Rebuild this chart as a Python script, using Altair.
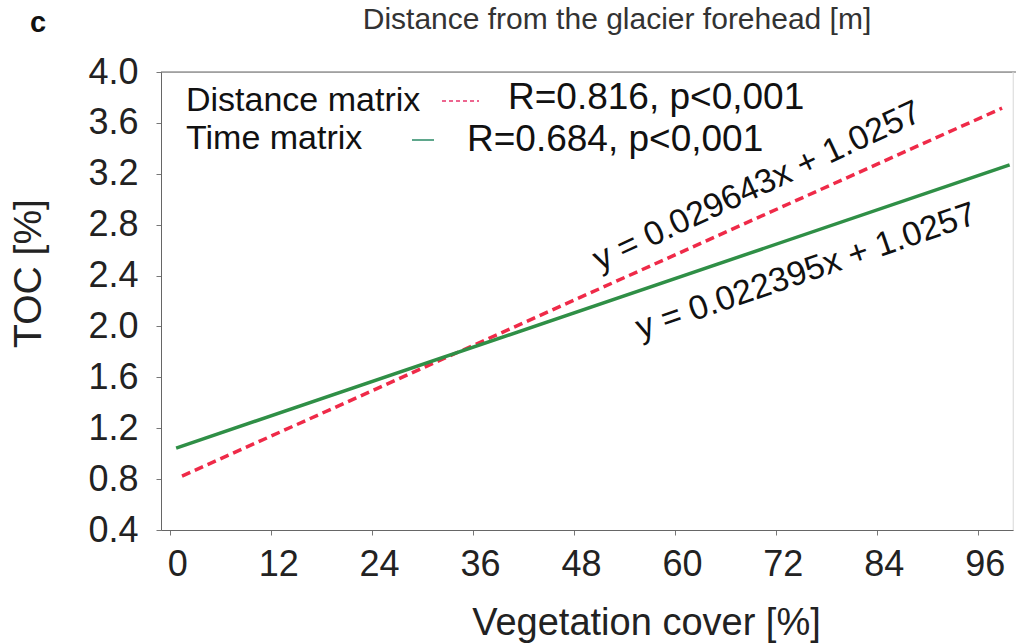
import altair as alt
import pandas as pd

# ---- data ----
series = ["Distance matrix", "Distance matrix", "Time matrix", "Time matrix"]
veg_cover = [1.4, 98.9, 0.7, 99.8]
toc = [0.824, 3.716, 1.044, 3.27]

x_ticks = [0, 12, 24, 36, 48, 60, 72, 84, 96]
y_ticks = [0.4, 0.8, 1.2, 1.6, 2.0, 2.4, 2.8, 3.2, 3.6, 4.0]

eq_texts = ["y = 0.029643x + 1.0257", "y = 0.022395x + 1.0257"]
eq_x = [69.8, 75.6]
eq_y = [3.10, 2.43]

legend_labels = ["Distance matrix", "Time matrix"]
stat_texts = ["R=0.816, p<0,001", "R=0.684, p<0,001"]

FONT = "Liberation Sans"
RED = "#ef2a48"
GREEN = "#2f8f46"

df = pd.DataFrame({"series": series, "veg": veg_cover, "toc": toc})

xscale = alt.Scale(domain=[-1.1, 100.2], nice=False, zero=False)
yscale = alt.Scale(domain=[0.4, 4.0], nice=False, zero=False)

xaxis = alt.Axis(values=x_ticks, grid=False, labelFontSize=36, labelFont=FONT,
                 labelColor="#222", tickSize=5, tickColor="#777", domainColor="#666",
                 labelPadding=12, labelOffset=7, title="Vegetation cover [%]",
                 titleFontSize=38, titleFont=FONT, titleFontWeight="normal",
                 titleColor="#222", titleX=485, titleY=104, titleBaseline="alphabetic")
yaxis = alt.Axis(values=y_ticks, format=".1f", grid=False, labelFontSize=36,
                 labelFont=FONT, labelColor="#222", tickSize=5, tickColor="#777",
                 domainColor="#666", labelPadding=18, title="TOC [%]",
                 titleFontSize=39, titleFont=FONT, titleFontWeight="normal",
                 titleColor="#222", titleX=-133, titleY=201, titleAngle=270,
                 titleBaseline="middle", titleAlign="center")

base = alt.Chart(df)
red_line = base.transform_filter(alt.datum.series == "Distance matrix").mark_line(
    color=RED, strokeWidth=3.5, strokeDash=[9, 5]
).encode(
    x=alt.X("veg:Q", scale=xscale, axis=xaxis),
    y=alt.Y("toc:Q", scale=yscale, axis=yaxis),
)
green_line = base.transform_filter(alt.datum.series == "Time matrix").mark_line(
    color=GREEN, strokeWidth=3.5
).encode(
    x=alt.X("veg:Q", scale=xscale),
    y=alt.Y("toc:Q", scale=yscale),
)

eq_df = pd.DataFrame({"text": eq_texts, "x": eq_x, "y": eq_y})
eq1 = alt.Chart(eq_df.iloc[[0]]).mark_text(
    font=FONT, fontSize=34, angle=335, color="#111", align="center", baseline="middle"
).encode(x=alt.X("x:Q", scale=xscale), y=alt.Y("y:Q", scale=yscale), text="text:N")
eq2 = alt.Chart(eq_df.iloc[[1]]).mark_text(
    font=FONT, fontSize=34, angle=341, color="#111", align="center", baseline="middle"
).encode(x=alt.X("x:Q", scale=xscale), y=alt.Y("y:Q", scale=yscale), text="text:N")

# custom legend
leg_df = pd.DataFrame({"label": legend_labels, "stat": stat_texts})
leg1 = alt.Chart(leg_df.iloc[[0]]).mark_text(
    font=FONT, fontSize=34, align="left", baseline="middle", color="#111"
).encode(x=alt.value(25), y=alt.value(29), text="label:N")
leg2 = alt.Chart(leg_df.iloc[[1]]).mark_text(
    font=FONT, fontSize=34, align="left", baseline="middle", color="#111"
).encode(x=alt.value(25), y=alt.value(67), text="label:N")
st1 = alt.Chart(leg_df.iloc[[0]]).mark_text(
    font=FONT, fontSize=37, align="left", baseline="middle", color="#111"
).encode(x=alt.value(347), y=alt.value(26), text="stat:N")
st2 = alt.Chart(leg_df.iloc[[1]]).mark_text(
    font=FONT, fontSize=37, align="left", baseline="middle", color="#111"
).encode(x=alt.value(306), y=alt.value(68), text="stat:N")
sym1 = alt.Chart(leg_df.iloc[[0]]).mark_rule(
    color="#e8336b", strokeWidth=1.5, strokeDash=[4, 3]
).encode(x=alt.value(281), x2=alt.value(318), y=alt.value(29))
sym2 = alt.Chart(leg_df.iloc[[1]]).mark_rule(
    color="#2a8a66", strokeWidth=1.5
).encode(x=alt.value(251), x2=alt.value(273), y=alt.value(68))

# frame: dark top line, faint right edge
top_rule = alt.Chart(leg_df.iloc[[0]]).mark_rule(color="#666", strokeWidth=1.2).encode(
    x=alt.value(0), x2=alt.value(855), y=alt.value(0))
right_rule = alt.Chart(leg_df.iloc[[0]]).mark_rule(color="#e8e8e8", strokeWidth=1).encode(
    x=alt.value(852), y=alt.value(0), y2=alt.value(458))

# panel letter and top title
head_df = pd.DataFrame({"letter": ["c"], "title": ["Distance from the glacier forehead [m]"]})
letter = alt.Chart(head_df).mark_text(
    font=FONT, fontSize=29, fontWeight="bold", align="center", baseline="middle", color="#111"
).encode(x=alt.value(-123), y=alt.value(-49), text="letter:N")
title = alt.Chart(head_df).mark_text(
    font=FONT, fontSize=30, align="center", baseline="middle", color="#333"
).encode(x=alt.value(456), y=alt.value(-52), text="title:N")

chart = alt.layer(
    top_rule, right_rule, red_line, green_line, eq1, eq2,
    leg1, leg2, st1, st2, sym1, sym2, letter, title
).properties(
    width=852, height=458,
    autosize=alt.AutoSizeParams(type="none"),
    padding={"left": 161, "top": 72, "right": 3, "bottom": 113},
).configure_view(stroke=None).configure(background="white")

chart.save("out.html", embed_options={"renderer": "svg", "actions": False})
